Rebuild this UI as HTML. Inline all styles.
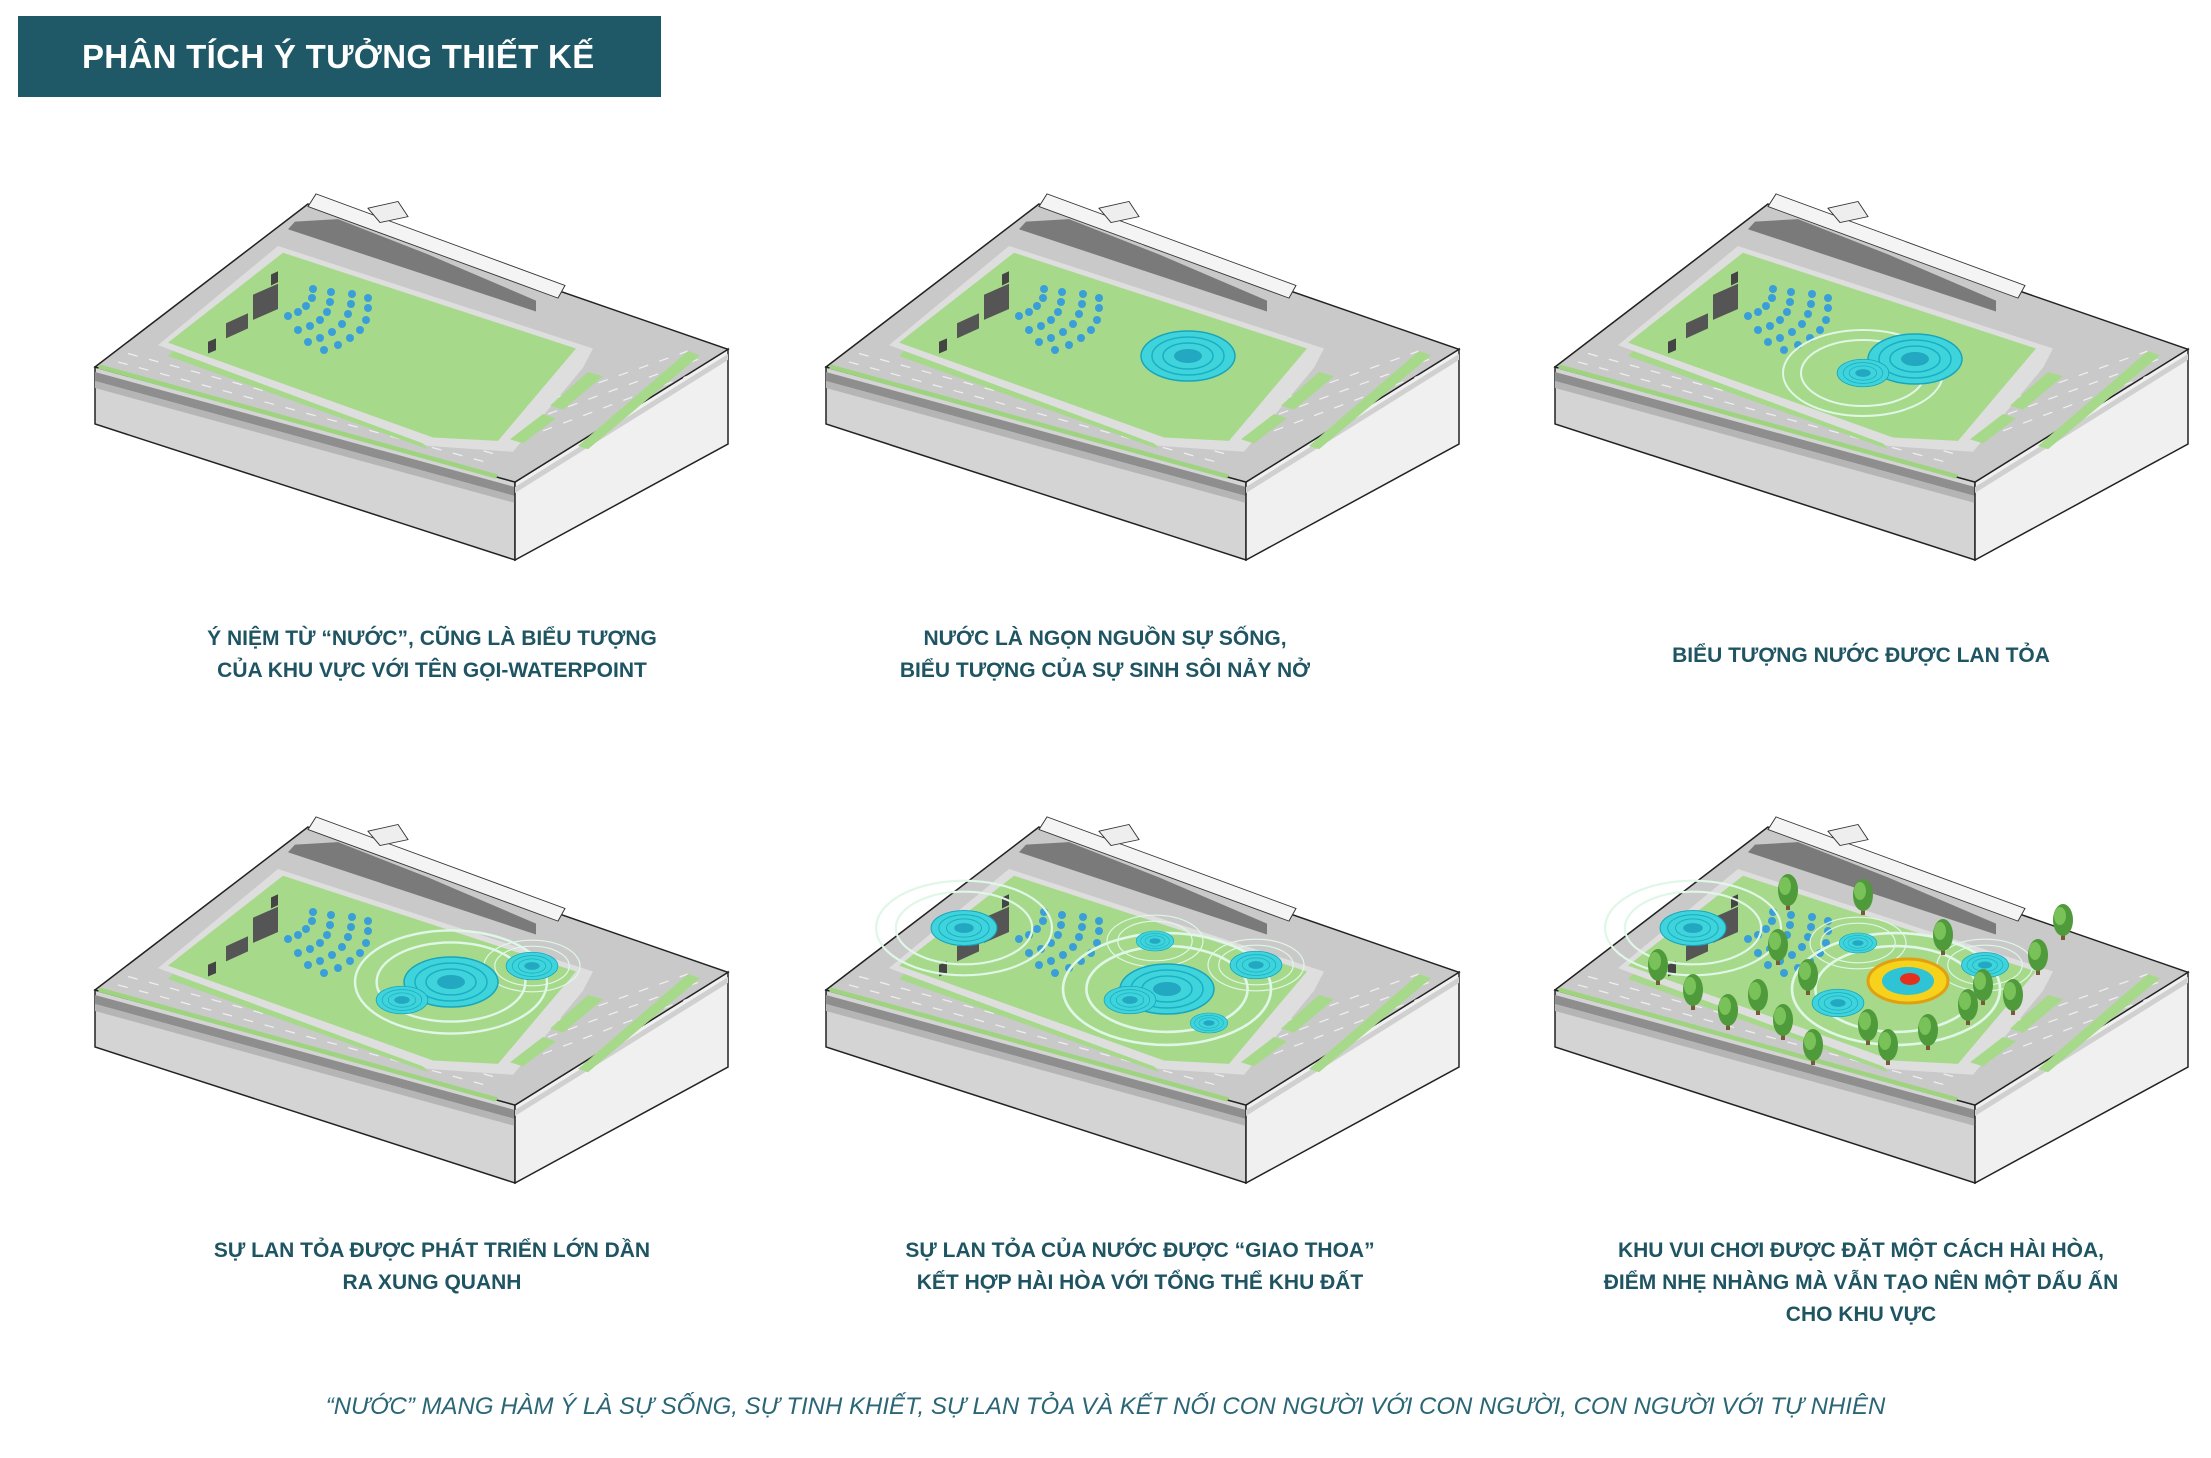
<!DOCTYPE html>
<html><head><meta charset="utf-8">
<style>
html,body{margin:0;padding:0;background:#fff;}
body{width:2211px;height:1458px;position:relative;overflow:hidden;font-family:"Liberation Sans",sans-serif;}
.title{position:absolute;left:18px;top:16px;width:643px;height:81px;background:#1f5967;color:#fff;font-weight:bold;font-size:33px;line-height:81px;padding-left:64px;box-sizing:border-box;letter-spacing:0.3px;}
.cap{position:absolute;width:700px;text-align:center;color:#1f5563;font-weight:bold;font-size:21px;line-height:32px;}
.foot{position:absolute;left:0;width:2211px;top:1393px;text-align:center;color:#2a6676;font-style:italic;font-size:24px;}
svg{position:absolute;left:0;top:0;}
</style></head><body>
<svg width="2211" height="1458" viewBox="0 0 2211 1458">
<defs>
<g id="blk">
 <polygon points="-213,163 207,278 207,356 -213,220" fill="#d4d4d4" stroke="#222" stroke-width="1.5"/>
 <polygon points="-213,168 207,283 207,292 -213,177" fill="#8e8e8e"/>
 <polygon points="-213,177 207,292 207,299 -213,184" fill="#b5b5b5"/>
 <polygon points="207,278 420,145 420,240 207,356" fill="#f0f0f0" stroke="#222" stroke-width="1.5"/>
 <polygon points="207,283 420,150 420,156 207,289" fill="#d0d0d0"/>
 <g transform="scale(1,0.84)">
 <polygon points="0,0 420,173 207,331 -213,194" fill="#c9c9c9" stroke="#222" stroke-width="1.7"/>
 <polygon points="-208,191 190,322 188,327 -210,196" fill="#9ed47f"/>
 <g stroke="#eee" stroke-width="1.5" stroke-dasharray="10 12">
  <line x1="-190" y1="188" x2="180" y2="308"/>
  <line x1="-180" y1="178" x2="185" y2="297"/>
  <line x1="250" y1="230" x2="380" y2="175"/>
  <line x1="240" y1="250" x2="390" y2="185"/>
  <line x1="235" y1="270" x2="395" y2="198"/>
 </g>
 <polygon points="-30,50 285,172 275,195 205,295 120,288 -150,168" fill="#dedede"/>
 <polygon points="-25,58 268,172 190,282 125,278 -140,165" fill="#a7d98b"/>
 <polygon points="-135,175 115,285 120,292 -140,181" fill="#a7d98b"/>
 <polygon points="280,200 295,205 255,245 242,240" fill="#a7d98b"/>
 <polygon points="235,250 248,255 215,285 202,280" fill="#a7d98b"/>
 <polygon points="380,175 392,180 280,292 270,288" fill="#a7d98b"/>
 <polygon points="-13,21 30,18 120,60 228,115 228,128 -20,30" fill="#7a7a7a"/>
 <polygon points="8,-12 257,97 250,112 0,3" fill="#f4f4f4" stroke="#333" stroke-width="1"/>
 <polygon points="60,5 90,-3 100,15 72,22" fill="#eee" stroke="#333" stroke-width="1"/>
 <polygon points="-82,160 -60,148 -60,130 -82,142" fill="#555"/>
 <polygon points="-55,138 -30,125 -30,95 -55,108" fill="#555"/>
 <polygon points="-100,178 -92,174 -92,160 -100,164" fill="#444"/>
 <polygon points="-37,97 -30,93 -30,80 -37,84" fill="#444"/>
 </g>
</g>
<g id="seats" fill="#3a9fd8">
 <circle cx="-20" cy="112" r="4"/><circle cx="-10" cy="108" r="4"/><circle cx="-2" cy="102" r="4"/><circle cx="4" cy="94" r="4"/><circle cx="5" cy="85" r="4"/>
 <circle cx="-10" cy="126" r="4"/><circle cx="2" cy="122" r="4"/><circle cx="12" cy="116" r="4"/><circle cx="19" cy="108" r="4"/><circle cx="22" cy="98" r="4"/><circle cx="23" cy="88" r="4"/>
 <circle cx="0" cy="138" r="4"/><circle cx="12" cy="134" r="4"/><circle cx="24" cy="128" r="4"/><circle cx="34" cy="120" r="4"/><circle cx="40" cy="110" r="4"/><circle cx="43" cy="100" r="4"/><circle cx="44" cy="90" r="4"/>
 <circle cx="16" cy="146" r="4"/><circle cx="30" cy="141" r="4"/><circle cx="42" cy="134" r="4"/><circle cx="52" cy="126" r="4"/><circle cx="58" cy="116" r="4"/><circle cx="60" cy="104" r="4"/><circle cx="60" cy="94" r="4"/>
</g>
<g id="ring">
 <ellipse rx="47" ry="25" fill="#3fd4dc" stroke="#17a6be" stroke-width="1.5"/>
 <ellipse rx="36" ry="19" fill="none" stroke="#1ab0c4" stroke-width="1.5"/>
 <ellipse rx="25" ry="13" fill="none" stroke="#1ab0c4" stroke-width="1.5"/>
 <ellipse rx="14" ry="7" fill="#22a8c0"/>
</g>
<g id="ripple" fill="none" stroke="#dff7e6" stroke-width="2">
 <ellipse rx="62" ry="33"/><ellipse rx="80" ry="43"/>
</g>
<g id="tree">
 <rect x="-2" y="0" width="4" height="12" fill="#7a5a3a"/>
 <ellipse cx="0" cy="-8" rx="10" ry="16" fill="#4f9a3a"/>
 <ellipse cx="-3" cy="-12" rx="6" ry="9" fill="#79c25a"/>
</g>
</defs>

<g transform="translate(308,204)"><use href="#blk"/><use href="#seats"/></g>
<g transform="translate(1039,204)"><use href="#blk"/><use href="#seats"/><use href="#ring" transform="translate(149,152)"/></g>
<g transform="translate(1768,204)"><use href="#blk"/><use href="#seats"/>
 <use href="#ripple" transform="translate(95,169)"/>
 <use href="#ring" transform="translate(147,155)"/>
 <use href="#ring" transform="translate(95,169) scale(0.55)"/></g>
<g transform="translate(308,827)"><use href="#blk"/><use href="#seats"/>
 <use href="#ripple" transform="translate(143,155) scale(1.2)"/>
 <use href="#ripple" transform="translate(224,139) scale(0.6)"/>
 <use href="#ring" transform="translate(143,155)"/>
 <use href="#ring" transform="translate(94,173) scale(0.55)"/>
 <use href="#ring" transform="translate(224,139) scale(0.55)"/></g>
<g transform="translate(1039,827)"><use href="#blk"/><use href="#seats"/>
 <use href="#ripple" transform="translate(128,162) scale(1.3)"/>
 <use href="#ripple" transform="translate(-75,101) scale(1.1)"/>
 <use href="#ripple" transform="translate(116,114) scale(0.6)"/>
 <use href="#ripple" transform="translate(217,138) scale(0.6)"/>
 <use href="#ring" transform="translate(128,162)"/>
 <use href="#ring" transform="translate(91,173) scale(0.55)"/>
 <use href="#ring" transform="translate(217,138) scale(0.55)"/>
 <use href="#ring" transform="translate(116,114) scale(0.4)"/>
 <use href="#ring" transform="translate(-75,101) scale(0.7)"/>
 <use href="#ring" transform="translate(170,196) scale(0.4)"/></g>
<g transform="translate(1768,827)"><use href="#blk"/><use href="#seats"/>
 <use href="#ripple" transform="translate(128,162) scale(1.3)"/>
 <use href="#ripple" transform="translate(-75,101) scale(1.1)"/>
 <use href="#ripple" transform="translate(90,116) scale(0.6)"/>
 <use href="#ripple" transform="translate(217,138) scale(0.6)"/>
 <use href="#ring" transform="translate(70,176) scale(0.55)"/>
 <use href="#ring" transform="translate(217,138) scale(0.5)"/>
 <use href="#ring" transform="translate(90,116) scale(0.4)"/>
 <use href="#ring" transform="translate(-75,101) scale(0.7)"/>
 <ellipse cx="140" cy="154" rx="40" ry="22" fill="#f7d21c" stroke="#e0a010" stroke-width="3"/>
 <ellipse cx="140" cy="154" rx="26" ry="14" fill="#2fc3d6"/>
 <ellipse cx="142" cy="152" rx="10" ry="6" fill="#e2321e"/>
 <g transform="translate(0,6)">
 <use href="#tree" transform="translate(-110,140)"/><use href="#tree" transform="translate(-75,165)"/>
 <use href="#tree" transform="translate(-40,185)"/><use href="#tree" transform="translate(-10,170)"/>
 <use href="#tree" transform="translate(15,195)"/><use href="#tree" transform="translate(40,150)"/>
 <use href="#tree" transform="translate(45,220)"/><use href="#tree" transform="translate(10,120)"/>
 <use href="#tree" transform="translate(20,65)"/><use href="#tree" transform="translate(100,200)"/>
 <use href="#tree" transform="translate(120,220)"/><use href="#tree" transform="translate(160,205)"/>
 <use href="#tree" transform="translate(200,180)"/><use href="#tree" transform="translate(245,170)"/>
 <use href="#tree" transform="translate(270,130)"/><use href="#tree" transform="translate(175,110)"/>
 <use href="#tree" transform="translate(95,70)"/><use href="#tree" transform="translate(295,95)"/>
 <use href="#tree" transform="translate(215,160)"/></g></g>
</svg>

<div class="title">PHÂN TÍCH Ý TƯỞNG THIẾT KẾ</div>
<div class="cap" style="left:82px;top:623px;">Ý NIỆM TỪ “NƯỚC”, CŨNG LÀ BIỂU TƯỢNG<br>CỦA KHU VỰC VỚI TÊN GỌI-WATERPOINT</div>
<div class="cap" style="left:755px;top:623px;">NƯỚC LÀ NGỌN NGUỒN SỰ SỐNG,<br>BIỂU TƯỢNG CỦA SỰ SINH SÔI NẢY NỞ</div>
<div class="cap" style="left:1511px;top:640px;">BIỂU TƯỢNG NƯỚC ĐƯỢC LAN TỎA</div>
<div class="cap" style="left:82px;top:1235px;">SỰ LAN TỎA ĐƯỢC PHÁT TRIỂN LỚN DẦN<br>RA XUNG QUANH</div>
<div class="cap" style="left:790px;top:1235px;">SỰ LAN TỎA CỦA NƯỚC ĐƯỢC “GIAO THOA”<br>KẾT HỢP HÀI HÒA VỚI TỔNG THỂ KHU ĐẤT</div>
<div class="cap" style="left:1511px;top:1235px;">KHU VUI CHƠI ĐƯỢC ĐẶT MỘT CÁCH HÀI HÒA,<br>ĐIỂM NHẸ NHÀNG MÀ VẪN TẠO NÊN MỘT DẤU ẤN<br>CHO KHU VỰC</div>
<div class="foot">“NƯỚC” MANG HÀM Ý LÀ SỰ SỐNG, SỰ TINH KHIẾT, SỰ LAN TỎA VÀ KẾT NỐI CON NGƯỜI VỚI CON NGƯỜI, CON NGƯỜI VỚI TỰ NHIÊN</div>
</body></html>
